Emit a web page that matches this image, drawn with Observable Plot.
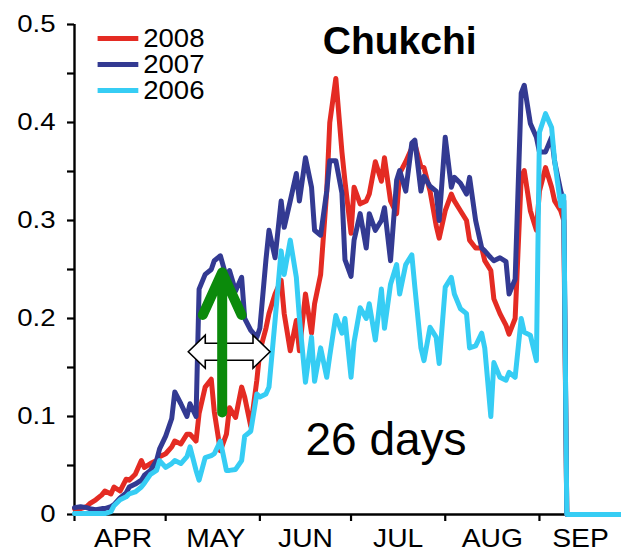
<!DOCTYPE html>
<html><head><meta charset="utf-8">
<script src="https://cdn.jsdelivr.net/npm/d3@7"></script>
<script src="https://cdn.jsdelivr.net/npm/@observablehq/plot@0.6"></script>
<style>html,body{margin:0;padding:0;background:#fff;}</style>
</head><body><div id="chart"></div>
<script>
// Day number counted from 1 April
const days = [0,2,4,5,7,9,10,12,13,15,17,18,20,22,23,25,27,28,30,32,33,35,37,38,40,41,43,45,46,48,50,51,53,55,56,58,60,61,63,64,66,68,69,71,73,74,76,78,79,81,83,84,86,88,89,91,92,94,96,97,99,101,102,104,106,107,109,111,112,114,115,117,119,120,122,124,125,127,129,130,132,134,135,137,138,140,142,143,145,147,148,150,152,153,155,157,158,160,161,162,180];
const values2008 = [0.006,0.006,0.008,0.011,0.015,0.02,0.024,0.021,0.028,0.024,
  0.036,0.035,0.041,0.055,0.048,0.052,0.055,0.059,0.062,0.069,
  0.075,0.072,0.082,0.082,0.075,0.103,0.13,0.138,0.105,0.065,
  0.082,0.109,0.099,0.13,0.12,0.09,0.137,0.167,0.19,0.205,
  0.225,0.239,0.205,0.167,0.198,0.167,0.225,0.185,0.215,0.245,
  0.33,0.4,0.445,0.37,0.34,0.287,0.334,0.317,0.32,0.327,
  0.36,0.34,0.364,0.32,0.307,0.348,0.36,0.374,0.378,0.355,
  0.354,0.33,0.295,0.282,0.31,0.327,0.32,0.31,0.3,0.28,
  0.272,0.272,0.259,0.249,0.22,0.205,0.193,0.184,0.2,0.344,
  0.351,0.31,0.29,0.33,0.354,0.334,0.32,0.31,0.3,0,
  0];
const values2007 = [0.007,0.008,0.007,0.006,0.005,0.006,0.006,0.008,0.01,0.017,
  0.022,0.028,0.031,0.035,0.04,0.045,0.055,0.067,0.08,0.098,
  0.125,0.113,0.1,0.113,0.1,0.23,0.245,0.25,0.259,0.264,
  0.242,0.249,0.228,0.242,0.2,0.188,0.181,0.19,0.26,0.29,
  0.262,0.32,0.293,0.32,0.348,0.32,0.364,0.334,0.29,0.285,
  0.33,0.361,0.361,0.328,0.26,0.243,0.28,0.307,0.272,0.307,
  0.29,0.3,0.313,0.259,0.341,0.351,0.33,0.379,0.382,0.33,
  0.345,0.335,0.33,0.3,0.385,0.334,0.344,0.338,0.327,0.344,
  0.3,0.272,0.269,0.262,0.259,0.262,0.258,0.225,0.24,0.43,
  0.438,0.399,0.385,0.37,0.37,0.385,0.36,0.33,0.32,0,
  0];
const values2006 = [0.001,0.001,0.001,0.001,0.001,0.001,0.001,0.003,0.009,0.015,
  0.018,0.021,0.023,0.028,0.032,0.041,0.045,0.055,0.048,0.052,
  0.055,0.052,0.059,0.069,0.045,0.035,0.058,0.06,0.062,0.075,
  0.045,0.045,0.046,0.055,0.08,0.085,0.123,0.12,0.123,0.13,
  0.198,0.269,0.245,0.28,0.242,0.201,0.135,0.181,0.136,0.17,
  0.14,0.162,0.203,0.185,0.2,0.14,0.176,0.211,0.2,0.215,
  0.178,0.23,0.19,0.235,0.255,0.225,0.255,0.265,0.232,0.17,
  0.157,0.191,0.181,0.154,0.232,0.242,0.225,0.21,0.205,0.17,
  0.172,0.185,0.17,0.1,0.155,0.14,0.137,0.145,0.14,0.2,
  0.186,0.183,0.157,0.39,0.409,0.395,0.361,0.315,0.325,0,
  0];

const years = ["2008", "2007", "2006"];
const colors = ["#e42b23", "#333a92", "#36cdf4"];
const monthNames = ["APR", "MAY", "JUN", "JUL", "AUG", "SEP"];
const monthStarts = [0, 30, 61, 91, 122, 153];
const monthMids = [16, 46.5, 76, 106.5, 137.5, 166.5];
const yMajor = [0, 0.1, 0.2, 0.3, 0.4, 0.5];
const yMinor = [0.05, 0.15, 0.25, 0.35, 0.45];
const yFormat = d => d === 0 ? "0" : d.toFixed(1);

// annotations (in data units)
const titleText = "Chukchi";
const titlePos = {day: 107, value: 0.483};
const noteText = "26 days";
const notePos = {day: 76, value: 0.0755};
const greenArrow = {day: 48.6, from: 0.104, to: 0.247};
const doubleArrow = {from: 37.6, to: 64.5, value: 0.1656};
const legendSwatch = [7.6, 21.0];
const legendTextDay = 22.6;
const legendValues = [0.4857, 0.4592, 0.4327];

const seriesValues = [values2008, values2007, values2006];
const table = years.flatMap((yr, i) => days.map((d, j) => ({year: yr, day: d, value: seriesValues[i][j]})));

function drawDoubleArrow(index, scales) {
  const x0 = scales.x(doubleArrow.from), x1 = scales.x(doubleArrow.to), cy = scales.y(doubleArrow.value);
  const hl = 17, hh = 16.5, sh = 8.5;
  const d = `M${x0},${cy} L${x0+hl},${cy-hh} L${x0+hl},${cy-sh} L${x1-hl},${cy-sh} L${x1-hl},${cy-hh} L${x1},${cy} L${x1-hl},${cy+hh} L${x1-hl},${cy+sh} L${x0+hl},${cy+sh} L${x0+hl},${cy+hh} Z`;
  const p = document.createElementNS("http://www.w3.org/2000/svg", "path");
  p.setAttribute("d", d);
  p.setAttribute("fill", "white");
  p.setAttribute("stroke", "black");
  p.setAttribute("stroke-width", "1.6");
  p.setAttribute("stroke-linejoin", "miter");
  return p;
}

const lineMarks = years.map((yr, i) => Plot.line(table.filter(r => r.year === yr), {
  x: "day", y: "value", stroke: colors[i], strokeWidth: 5, strokeLinejoin: "round", strokeLinecap: "round"
}));

const legendMarks = years.flatMap((yr, i) => [
  Plot.link([yr], {x1: () => legendSwatch[0], x2: () => legendSwatch[1], y1: () => legendValues[i], y2: () => legendValues[i], stroke: colors[i], strokeWidth: 5}),
  Plot.text([yr], {x: () => legendTextDay, y: () => legendValues[i], text: d => d, textAnchor: "start", fontSize: 26, fill: "black"})
]);

const chart = Plot.plot({
  width: 621,
  height: 552,
  marginLeft: 74,
  marginRight: 0,
  marginTop: 24,
  marginBottom: 38,
  style: {fontFamily: "'Liberation Sans', Arial, sans-serif", background: "white", color: "black"},
  x: {domain: [0, 180], label: null},
  y: {domain: [0, 0.5], label: null},
  marks: [
    Plot.axisY({ticks: yMinor, tickSize: 7, tickFormat: () => "", strokeWidth: 2.2}),
    Plot.axisY({ticks: yMajor, tickSize: 7, tickPadding: 12, strokeWidth: 2.2, fontSize: 23, tickFormat: yFormat}),
    Plot.axisX({ticks: monthStarts, tickSize: 7, tickFormat: () => "", strokeWidth: 2.2}),
    Plot.text(monthNames, {x: (d, i) => monthMids[i], y: () => 0, dy: 24, text: d => d, fontSize: 25, fill: "black"}),
    Plot.ruleX([0], {y1: 0, y2: 0.5, strokeWidth: 2.4}),
    Plot.ruleY([0], {strokeWidth: 2.4}),
    ...lineMarks,
    ...legendMarks,
    drawDoubleArrow,
    Plot.arrow([greenArrow], {x1: "day", x2: "day", y1: "from", y2: "to", stroke: "#0b8a0b", strokeWidth: 10,
      headAngle: 49, headLength: 7, strokeLinecap: "round", strokeLinejoin: "round"}),
    Plot.text([titleText], {x: () => titlePos.day, y: () => titlePos.value, text: d => d, fontSize: 39, fontWeight: "bold", fill: "black"}),
    Plot.text([noteText], {x: () => notePos.day, y: () => notePos.value, text: d => d, fontSize: 46, textAnchor: "start", fill: "black"})
  ]
});
document.getElementById("chart").appendChild(chart);

// The reference's axis lettering is slightly wider than the font: widen it with textLength.
function widen(texts, sx) {
  d3.select(chart).selectAll("text").filter(function() { return texts.includes(this.textContent); }).each(function() {
    const w = this.getComputedTextLength();
    if (w > 0) {
      this.setAttribute("textLength", (w * sx).toFixed(2));
      this.setAttribute("lengthAdjust", "spacingAndGlyphs");
    }
  });
}
widen(yMajor.map(yFormat), 1.2);
widen(monthNames, 1.13);
widen(years, 1.06);
</script>
</body></html>
